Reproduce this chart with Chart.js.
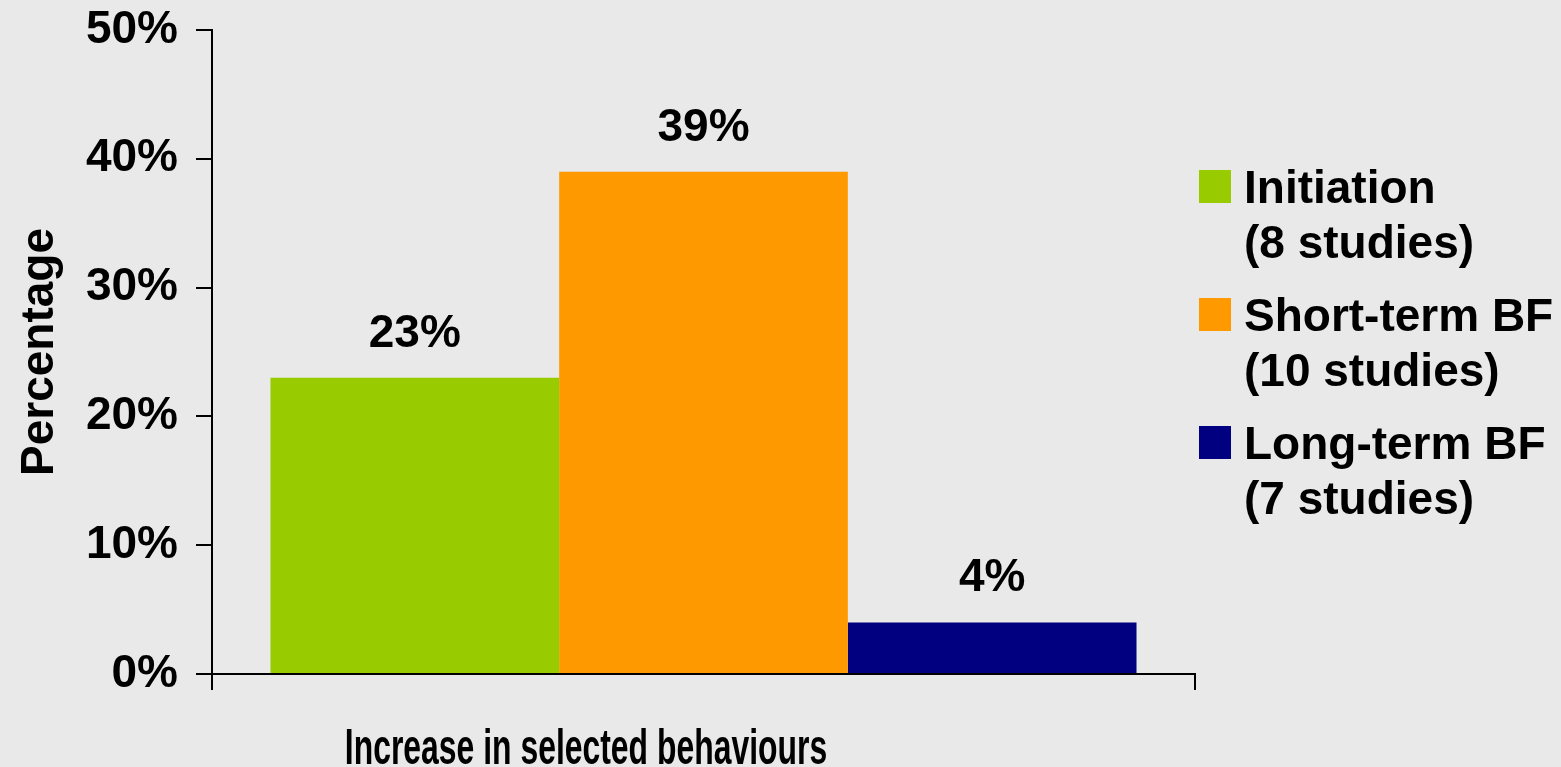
<!DOCTYPE html>
<html>
<head>
<meta charset="utf-8">
<script src="https://cdn.jsdelivr.net/npm/chart.js@4.4.1/dist/chart.umd.min.js"></script>
<style>
  body { margin: 0; background: #e9e9e9; }
  #wrap { width: 1561px; height: 767px; position: relative; }
</style>
</head>
<body>
<div id="wrap"><canvas id="canvas1"></canvas></div>
<script>
const categories = ['Increase in selected behaviours'];
const seriesNames = ['Initiation', 'Short-term BF', 'Long-term BF'];
const seriesNotes = ['(8 studies)', '(10 studies)', '(7 studies)'];
const seriesValues = [23, 39, 4];
const seriesColors = ['#99cc00', '#ff9900', '#000080'];
const yTicks = [0, 10, 20, 30, 40, 50];
const yTitle = 'Percentage';

const FONT = '"Liberation Sans", Arial, sans-serif';

const ctx1 = document.getElementById('canvas1');

const extras = {
    id: 'extras',
    afterDatasetsDraw(chart) {
        const c = chart.ctx;
        c.save();
        c.fillStyle = '#000';
        c.font = 'bold 46px ' + FONT;
        c.textAlign = 'center';
        c.textBaseline = 'alphabetic';
        chart.data.datasets.forEach((ds, i) => {
            const bar = chart.getDatasetMeta(i).data[0];
            c.fillText(ds.data[0] + '%', bar.x, bar.y - 31);
        });
        c.restore();
    },
    afterDraw(chart) {
        const c = chart.ctx;
        c.save();
        c.fillStyle = '#000';

        // y axis title
        c.font = 'bold 46px ' + FONT;
        c.textAlign = 'center';
        c.textBaseline = 'alphabetic';
        c.translate(53, 352);
        c.rotate(-Math.PI / 2);
        c.fillText(yTitle, 0, 0);
        c.restore();

        // x axis title, narrow
        c.save();
        c.fillStyle = '#000';
        c.font = 'bold 50px ' + FONT;
        c.textAlign = 'center';
        c.textBaseline = 'alphabetic';
        c.translate(586, 764);
        c.scale(0.638, 1);
        c.fillText(chart.data.labels[0], 0, 0);
        c.restore();

        // legend
        c.save();
        c.font = 'bold 46px ' + FONT;
        c.textAlign = 'left';
        c.textBaseline = 'alphabetic';
        chart.data.datasets.forEach((ds, i) => {
            const base = 203 + i * 128;
            c.fillStyle = ds.backgroundColor;
            c.fillRect(1199, base - 33, 32, 33);
            c.fillStyle = '#000';
            c.fillText(ds.label, 1244, base);
            c.fillText(seriesNotes[i], 1244, base + 55);
        });
        c.restore();
    }
};

const data1 = {
    labels: categories,
    datasets: seriesNames.map((name, i) => ({
        label: name,
        data: [seriesValues[i]],
        backgroundColor: seriesColors[i],
        borderWidth: 0,
        categoryPercentage: 0.881,
        barPercentage: 1
    }))
};

const c1 = new Chart(ctx1, {
    type: 'bar',
    data: data1,
    plugins: [extras],
    options: {
        responsive: true,
        maintainAspectRatio: false,
        animation: false,
        layout: { padding: { top: 30, right: 366, left: 0, bottom: 0 } },
        plugins: {
            legend: { display: false },
            tooltip: { enabled: false }
        },
        scales: {
            x: {
                ticks: { display: false },
                grid: { drawOnChartArea: false, drawTicks: true, tickLength: 16, color: '#000', lineWidth: 2 },
                border: { display: true, color: '#000', width: 2 },
                afterFit: (s) => { s.height = 93; s.paddingLeft = 0; s.paddingRight = 0; }
            },
            y: {
                min: 0,
                max: 50,
                afterBuildTicks: (s) => { s.ticks = yTicks.map(v => ({ value: v })); },
                ticks: {
                    color: '#000',
                    padding: 18,
                    font: { family: FONT, size: 46, weight: 'bold' },
                    callback: (v) => v + '%'
                },
                grid: { drawOnChartArea: false, drawTicks: true, tickLength: 16, color: '#000', lineWidth: 2 },
                border: { display: true, color: '#000', width: 2 },
                afterFit: (s) => { s.width = 212; s.paddingTop = 0; s.paddingBottom = 0; }
            }
        }
    }
});
</script>
</body>
</html>
